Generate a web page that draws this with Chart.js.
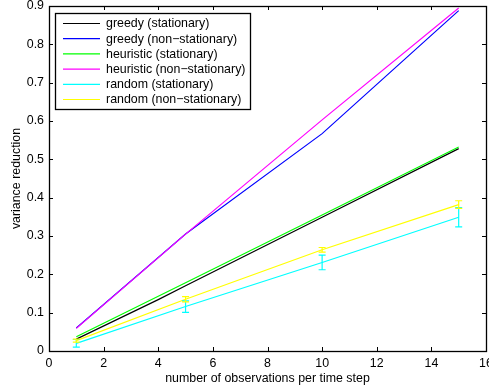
<!DOCTYPE html>
<html>
<head>
<meta charset="utf-8">
<script src="https://cdn.jsdelivr.net/npm/chart.js@4.4.1/dist/chart.umd.min.js"></script>
<style>
  html, body { margin: 0; padding: 0; background: #fff; }
  #wrap { width: 489px; height: 386px; }
</style>
</head>
<body>
<div id="wrap"><canvas id="chart"></canvas></div>
<script>
// observations per time step
const steps = [1, 5, 10, 15];
const greedySteps = [1, 4, 5, 10, 15];

// variance reduction per strategy
const greedyStationary = [0.031, 0.134, 0.170, 0.349, 0.528];
const greedyNonStationary = [0.060, 0.305, 0.567, 0.888];
const heuristicStationary = [0.037, 0.178, 0.355, 0.532];
const heuristicNonStationary = [0.059, 0.305, 0.603, 0.895];
const randomStationary = [0.020, 0.116, 0.231, 0.349];
const randomNonStationary = [0.027, 0.135, 0.264, 0.382];

// error bar half-widths for the random runs
const randomStationaryErr = [0.010, 0.015, 0.019, 0.025];
const randomNonStationaryErr = [0.004, 0.007, 0.006, 0.010];

const xTicks = [0, 2, 4, 6, 8, 10, 12, 14, 16];
const yTicks = [0, 0.1, 0.2, 0.3, 0.4, 0.5, 0.6, 0.7, 0.8, 0.9];

const FONT = 'Liberation Sans, Arial, Helvetica, sans-serif';
const FONT_SIZE = 12.4;

function pts(xs, ys) {
    return xs.map((x, i) => ({ x: x, y: ys[i] }));
}

const series = [
    { label: 'greedy (stationary)', xs: greedySteps, ys: greedyStationary, color: '#000000' },
    { label: 'greedy (non\u2212stationary)', xs: steps, ys: greedyNonStationary, color: '#0000ff' },
    { label: 'heuristic (stationary)', xs: steps, ys: heuristicStationary, color: '#00ff00' },
    { label: 'heuristic (non\u2212stationary)', xs: steps, ys: heuristicNonStationary, color: '#ff00ff' },
    { label: 'random (stationary)', xs: steps, ys: randomStationary, color: '#00ffff', err: randomStationaryErr },
    { label: 'random (non\u2212stationary)', xs: steps, ys: randomNonStationary, color: '#ffff00', err: randomNonStationaryErr }
];

const datasets = series.map((s, i) => ({
    label: s.label,
    data: pts(s.xs, s.ys),
    borderColor: s.color,
    backgroundColor: s.color,
    borderWidth: 1.2,
    pointRadius: 0,
    tension: 0,
    fill: false,
    order: -i,
    errorBars: s.err || null
}));

// vertical error bars with small caps
const errorBarPlugin = {
    id: 'errorBars',
    afterDatasetsDraw(chart) {
        const ctx = chart.ctx;
        const xs = chart.scales.x, ys = chart.scales.y;
        ctx.save();
        chart.data.datasets.forEach(ds => {
            if (!ds.errorBars) return;
            ctx.strokeStyle = ds.borderColor;
            ctx.lineWidth = 1.2;
            ds.data.forEach((p, i) => {
                const e = ds.errorBars[i];
                const px = xs.getPixelForValue(p.x);
                const top = ys.getPixelForValue(p.y + e);
                const bot = ys.getPixelForValue(p.y - e);
                ctx.beginPath();
                ctx.moveTo(px, top); ctx.lineTo(px, bot);
                ctx.moveTo(px - 3.5, top); ctx.lineTo(px + 3.5, top);
                ctx.moveTo(px - 3.5, bot); ctx.lineTo(px + 3.5, bot);
                ctx.stroke();
            });
        });
        ctx.restore();
    }
};

// box around the plot with inward ticks on all four sides
const framePlugin = {
    id: 'frame',
    afterDraw(chart) {
        const ctx = chart.ctx;
        const a = chart.chartArea;
        const xs = chart.scales.x, ys = chart.scales.y;
        const len = 4;
        ctx.save();
        ctx.strokeStyle = '#000';
        ctx.lineWidth = 1;
        ctx.beginPath();
        xs.ticks.forEach(t => {
            const px = Math.round(xs.getPixelForValue(t.value)) + 0.5;
            ctx.moveTo(px, a.bottom); ctx.lineTo(px, a.bottom - len);
            ctx.moveTo(px, a.top); ctx.lineTo(px, a.top + len);
        });
        ys.ticks.forEach(t => {
            const py = Math.round(ys.getPixelForValue(t.value)) + 0.5;
            ctx.moveTo(a.left, py); ctx.lineTo(a.left + len, py);
            ctx.moveTo(a.right, py); ctx.lineTo(a.right - len, py);
        });
        ctx.stroke();
        ctx.lineWidth = 1.3;
        ctx.strokeRect(Math.round(a.left) + 0.5, Math.round(a.top) + 0.5,
            Math.round(a.right - a.left), Math.round(a.bottom - a.top));
        ctx.restore();
    }
};

// boxed legend in the upper left corner of the plot
const legendPlugin = {
    id: 'boxLegend',
    afterDraw(chart) {
        const ctx = chart.ctx;
        const a = chart.chartArea;
        const left = a.left + 6, top = a.top + 7;
        const w = 195, rowH = 15.2, h = 96;
        ctx.save();
        ctx.fillStyle = '#fff';
        ctx.fillRect(left, top, w, h);
        ctx.strokeStyle = '#000';
        ctx.lineWidth = 1.3;
        ctx.strokeRect(Math.round(left) + 0.5, Math.round(top) + 0.5, w, h);
        ctx.font = FONT_SIZE + 'px ' + FONT;
        ctx.textBaseline = 'middle';
        chart.data.datasets.forEach((ds, i) => {
            const y = top + 10.5 + i * rowH;
            ctx.strokeStyle = ds.borderColor;
            ctx.lineWidth = 1.2;
            ctx.beginPath();
            ctx.moveTo(left + 8, y); ctx.lineTo(left + 45, y);
            ctx.stroke();
            ctx.fillStyle = '#000';
            ctx.fillText(ds.label, left + 51, y + 0.5);
        });
        ctx.restore();
    }
};

new Chart(document.getElementById('chart').getContext('2d'), {
    type: 'line',
    data: { datasets: datasets },
    options: {
        responsive: true,
        maintainAspectRatio: false,
        animation: false,
        layout: { padding: { top: 6, right: 3, left: 0, bottom: 0 } },
        plugins: {
            legend: { display: false },
            tooltip: { enabled: false }
        },
        scales: {
            x: {
                type: 'linear',
                min: 0,
                max: 16,
                grid: { display: false, drawTicks: false },
                border: { display: false },
                afterBuildTicks: s => { s.ticks = xTicks.map(v => ({ value: v })); },
                ticks: {
                    padding: 5,
                    maxRotation: 0,
                    color: '#000',
                    font: { family: FONT, size: FONT_SIZE }
                },
                title: {
                    display: true,
                    text: 'number of observations per time step',
                    color: '#000',
                    padding: { top: 1, bottom: 0 },
                    font: { family: FONT, size: FONT_SIZE }
                },
                afterFit: s => { s.height = 35; s.paddingRight = 0; s.paddingLeft = 0; }
            },
            y: {
                min: 0,
                max: 0.9,
                grid: { display: false, drawTicks: false },
                border: { display: false },
                afterBuildTicks: s => { s.ticks = yTicks.map(v => ({ value: v })); },
                ticks: {
                    padding: 5,
                    color: '#000',
                    font: { family: FONT, size: FONT_SIZE }, 
                    callback: v => String(+v.toFixed(1))
                },
                title: {
                    display: true,
                    text: 'variance reduction',
                    color: '#000',
                    padding: { top: 9, bottom: 0 },
                    font: { family: FONT, size: FONT_SIZE }
                },
                afterFit: s => { s.width = 49; s.paddingTop = 0; }
            }
        }
    },
    plugins: [errorBarPlugin, framePlugin, legendPlugin]
});
</script>
</body>
</html>
